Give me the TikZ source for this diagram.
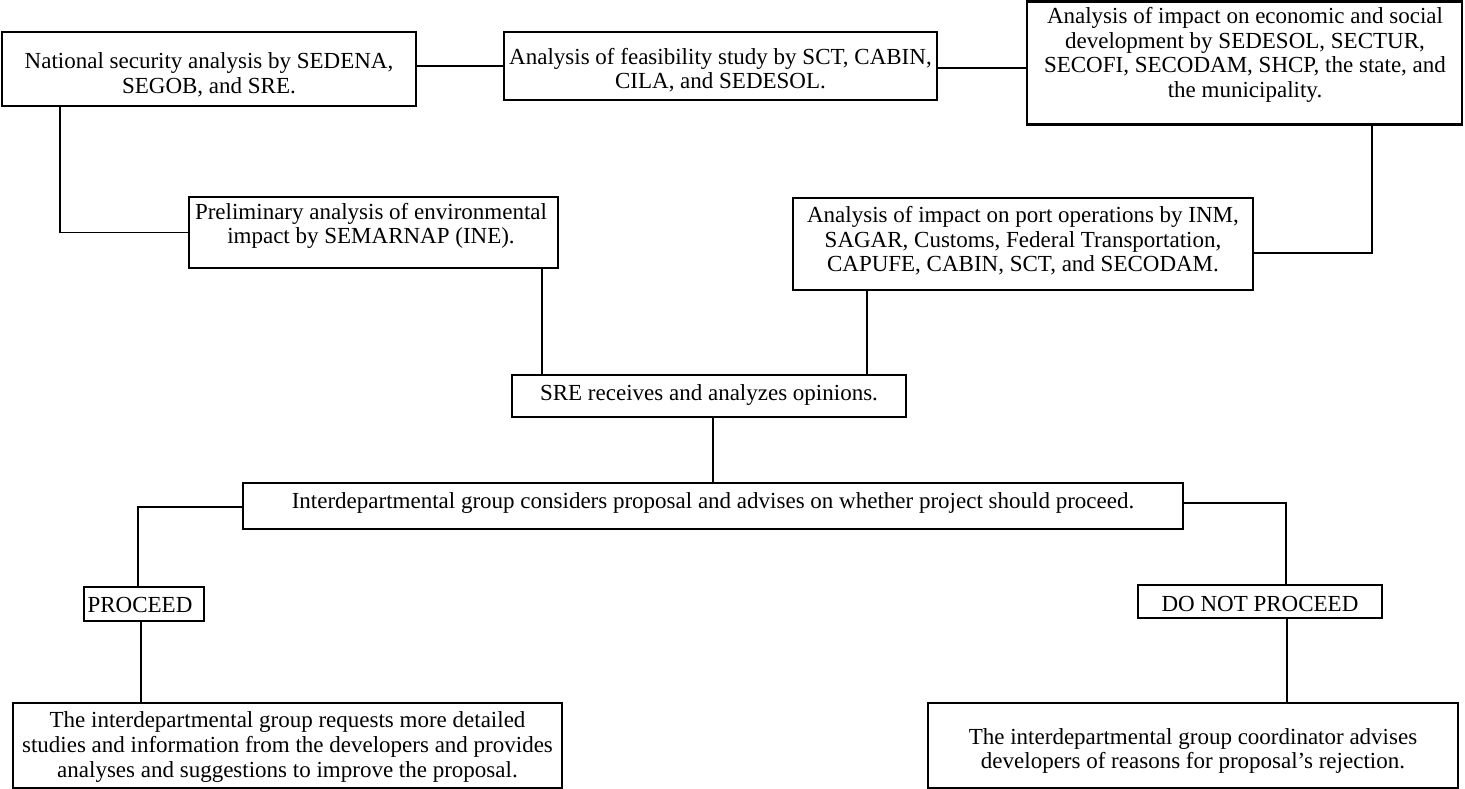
\documentclass[tikz,border=0pt]{standalone}
\usepackage{fontspec}
\setmainfont{Liberation Serif}
\begin{document}
\begin{tikzpicture}[x=1pt,y=-1pt,
  box/.style={draw, line width=2.3pt, inner sep=0pt},
  txt/.style={align=center, inner sep=0pt, font=\fontsize{23}{24.6}\selectfont},
  conn/.style={line width=1.8pt}]
\useasboundingbox (0,0) rectangle (1465,789);
% boxes
\node[box, minimum width=414pt, minimum height=74pt]  (b1)  at (209,69) {};
\node[box, minimum width=433pt, minimum height=68pt]  (b2)  at (720.5,66) {};
\node[box, minimum width=435pt, minimum height=123pt] (b3)  at (1244.5,63) {};
\node[box, minimum width=369pt, minimum height=71pt]  (b4)  at (373.5,232.5) {};
\node[box, minimum width=460pt, minimum height=92pt]  (b5)  at (1023,244) {};
\node[box, minimum width=394pt, minimum height=42pt]  (b6)  at (709,396) {};
\node[box, minimum width=940pt, minimum height=46pt]  (b7)  at (713,506) {};
\node[box, minimum width=120pt, minimum height=34pt]  (b8)  at (144,604) {};
\node[box, minimum width=244pt, minimum height=33pt]  (b9)  at (1260,601.5) {};
\node[box, minimum width=549pt, minimum height=85pt]  (b10) at (287.5,745.5) {};
\node[box, minimum width=530pt, minimum height=85pt]  (b11) at (1193,745.5) {};
% texts
\node[txt] (t1) at (209,75) {National security analysis by SEDENA,\\SEGOB, and SRE.};
\node[txt] (t2) at (720.5,70) {Analysis of feasibility study by SCT, CABIN,\\CILA, and SEDESOL.};
\node[txt] (t3) at (1245,55) {Analysis of impact on economic and social\\development by SEDESOL, SECTUR,\\SECOFI, SECODAM, SHCP, the state, and\\the municipality.};
\node[txt] (t4) at (371,226) {Preliminary analysis of environmental\\impact by SEMARNAP (INE).};
\node[txt] (t5) at (1023,241) {Analysis of impact on port operations by INM,\\SAGAR, Customs, Federal Transportation,\\CAPUFE, CABIN, SCT, and SECODAM.};
\node[txt] (t6) at (709,395) {SRE receives and analyzes opinions.};
\node[txt] (t7) at (713,503) {Interdepartmental group considers proposal and advises on whether project should proceed.};
\node[txt] (t8) at (140,605) {PROCEED};
\node[txt] (t9) at (1260,604) {DO NOT PROCEED};
\node[txt] (t10) at (287.5,747) {The interdepartmental group requests more detailed\\studies and information from the developers and provides\\analyses and suggestions to improve the proposal.};
\node[txt] (t11) at (1193,751) {The interdepartmental group coordinator advises\\developers of reasons for proposal’s rejection.};
% connectors
\draw[conn] (b1.east |- b2.west) -- (b2.west);
\draw[conn] ([yshift=-2pt]b2.east) -- ([yshift=-2pt]b2.east -| b3.west);
\coordinate (c1) at ([xshift=59pt]b1.south west);
\draw[conn] (b4.west) -| (c1);
\coordinate (c3) at ([xshift=346pt]b3.south west);
\draw[conn] ([yshift=-9pt]b5.east) -| (c3);
\coordinate (c4) at ([xshift=354pt]b4.south west);
\draw[conn] (c4) -- (c4 |- b6.north);
\coordinate (c5) at ([xshift=75pt]b5.south west);
\draw[conn] (c5) -- (c5 |- b6.north);
\coordinate (c6) at ([xshift=4pt]b6.south);
\draw[conn] (c6) -- (c6 |- b7.north);
\coordinate (c7) at ([xshift=-6pt]b8.north);
\draw[conn] ([yshift=-1pt]b7.west) -| (c7);
\coordinate (c8) at ([xshift=-3pt]b8.south);
\draw[conn] (c8) -- (c8 |- b10.north);
\coordinate (c9) at ([xshift=26pt]b9.north);
\draw[conn] ([yshift=3pt]b7.east) -| (c9);
\coordinate (c10) at ([xshift=27pt]b9.south);
\draw[conn] (c10) -- (c10 |- b11.north);
\end{tikzpicture}
\end{document}
